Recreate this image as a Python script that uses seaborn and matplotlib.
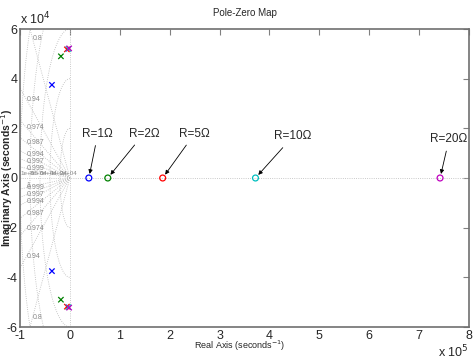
import numpy as np
import pandas as pd
import matplotlib
matplotlib.use("Agg")
import matplotlib.pyplot as plt
from matplotlib.ticker import FuncFormatter
import seaborn as sns

# data
r_labels = ["R=1Ω", "R=2Ω", "R=5Ω", "R=10Ω", "R=20Ω"]
zero_re = [0.38e5, 0.76e5, 1.86e5, 3.72e5, 7.42e5]
pole_re = [-0.36e5, -0.18e5, -0.06e5, -0.03e5, -0.015e5]
pole_im = [3.75e4, 4.9e4, 5.18e4, 5.2e4, 5.22e4]
colors = ["#0000ff", "#008000", "#ff0000", "#00bfbf", "#bf00bf"]

zeta_vals = [0.8, 0.94, 0.974, 0.987, 0.994, 0.997, 0.999]
wn_vals = [2e4, 4e4, 6e4, 8e4, 1e5]
wn_text = ["2e+04", "4e+04", "6e+04", "8e+04", "1e+05"]

xticks = np.arange(-1, 9) * 1e5
yticks = np.arange(-6, 7, 2) * 1e4

sns.set_style("white")
plt.rcParams["font.family"] = ["Liberation Sans", "DejaVu Sans"]

zeros = pd.DataFrame({"re": zero_re, "im": [0.0] * len(zero_re), "R": r_labels})
poles = pd.DataFrame({
    "re": pole_re + pole_re,
    "im": pole_im + [-v for v in pole_im],
    "R": r_labels + r_labels,
})

fig = plt.figure(figsize=(4.74, 3.64), dpi=100)
ax = fig.add_axes([20 / 474, 1 - 327 / 364, 449 / 474, 298 / 364])

grid_kw = dict(color="#b8b8b8", lw=0.6, ls=":", zorder=1)
gtxt = "#888888"

# damping lines
L = 1e6
for z in zeta_vals:
    s = np.sqrt(1 - z ** 2)
    ax.plot([0, -L * z], [0, L * s], **grid_kw)
    ax.plot([0, -L * z], [0, -L * s], **grid_kw)
    tan = s / z
    xl = -0.87e5
    yl = -xl * tan
    if yl > 5.6e4:
        yl = 5.6e4
        xl = -yl / tan
    for sign in (1, -1):
        ax.text(xl, sign * yl, f"{z:g}", fontsize=5, color=gtxt,
                ha="left", va="center", zorder=2)
ax.text(-0.87e5, -0.15e4, "1", fontsize=5, color=gtxt, ha="left", va="top")

# natural frequency arcs
th = np.linspace(np.pi / 2, 3 * np.pi / 2, 200)
for wn, t in zip(wn_vals, wn_text):
    ax.plot(wn * np.cos(th), wn * np.sin(th), **grid_kw)
    ax.text(-wn, 0.1e4, t, fontsize=4.5, color=gtxt, ha="left", va="bottom")

ax.axhline(0, **grid_kw)
ax.axvline(0, **grid_kw)

# zeros (hollow circles)
sns.scatterplot(data=zeros, x="re", y="im", hue="R", palette=colors, marker="o",
                s=18, legend=False, ax=ax, zorder=3)
coll = ax.collections[-1]
fc = coll.get_facecolors()
coll.set_facecolor("none")
coll.set_edgecolor(fc)
coll.set_linewidth(0.9)

# poles
sns.scatterplot(data=poles, x="re", y="im", hue="R", palette=colors, marker="x",
                s=15, linewidth=0.9, legend=False, ax=ax, zorder=3)

offsets = [(6.5, 32), (26, 32), (23, 32), (27, 30), (6.5, 28)]
for lab, xr, off in zip(r_labels, zero_re, offsets):
    ax.annotate(lab, xy=(xr, 0), xytext=off, textcoords="offset points",
                ha="center", va="center", fontsize=8.5,
                arrowprops=dict(arrowstyle="-|>", color="black", lw=0.6,
                                mutation_scale=6, shrinkA=2, shrinkB=3))

ax.set_xlim(-1e5, 8e5)
ax.set_ylim(-6e4, 6e4)
ax.set_xticks(xticks)
ax.set_yticks(yticks)
ax.xaxis.set_major_formatter(FuncFormatter(lambda v, p: f"{v / 1e5:g}"))
ax.yaxis.set_major_formatter(FuncFormatter(lambda v, p: f"{v / 1e4:g}"))
ax.tick_params(direction="in", top=True, right=True, length=4, width=0.8,
               color="#808080", labelsize=9, pad=2)
for sp in ax.spines.values():
    sp.set_color("#707070")
    sp.set_linewidth(1.2)

ax.set_title("Pole-Zero Map", fontsize=7, pad=9)
ax.set_xlabel("Real Axis (seconds$^{-1}$)", fontsize=6.5)
ax.set_ylabel("Imaginary Axis (seconds$^{-1}$)", fontsize=7.5, fontweight="bold")
ax.xaxis.set_label_coords(0.49, -0.04)
ax.yaxis.set_label_coords(-0.011, 0.5)
ax.text(0, 1.005, "x 10$^4$", transform=ax.transAxes, fontsize=9,
        ha="left", va="bottom")
ax.text(1.0, -0.055, "x 10$^5$", transform=ax.transAxes, fontsize=9,
        ha="right", va="top")

plt.savefig("out.png", dpi=100)
plt.close()
